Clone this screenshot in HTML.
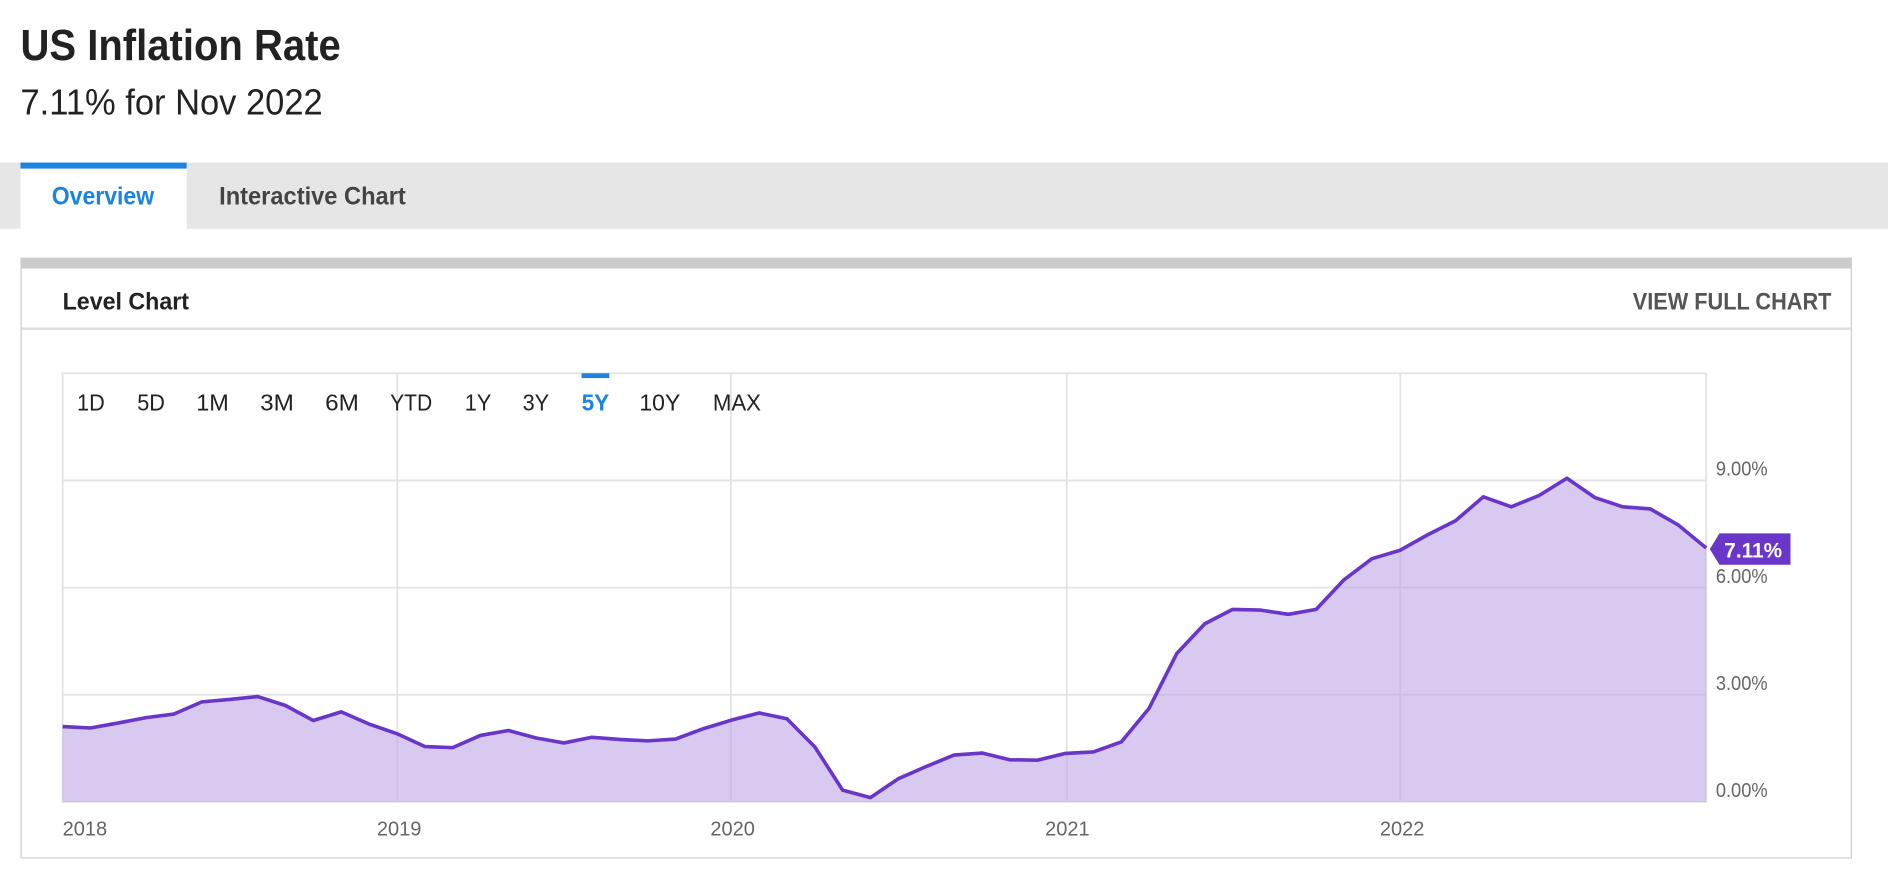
<!DOCTYPE html>
<html><head><meta charset="utf-8"><style>
html,body{margin:0;padding:0;background:#fff;overflow:hidden;width:1888px;height:890px}
#w{position:absolute;left:0;top:0;width:1568px;height:739px;transform:scale(1.2041);transform-origin:0 0;font-family:"Liberation Sans",sans-serif}
.a{position:absolute;white-space:nowrap}
</style></head><body><div id="w">
<div class="a" style="left:0;top:135px;width:1568px;height:55px;background:#e6e6e6"></div>
<div class="a" style="left:17px;top:135px;width:138px;height:55px;background:#fff;border-top:5px solid #1a84e0;box-sizing:border-box"></div>
<div class="a" style="left:17px;top:214px;width:1521px;height:499px;border:1px solid #ccc;border-top:9px solid #ccc;box-sizing:border-box"></div>
<div class="a" style="left:18px;top:272px;width:1519px;height:2px;background:#ddd"></div>
<svg class="a" style="left:0;top:0" width="1568" height="739" font-family="Liberation Sans,sans-serif">
<text x="17" y="50" font-size="36" font-weight="bold" fill="#222" textLength="266" lengthAdjust="spacingAndGlyphs">US Inflation Rate</text>
<text x="17" y="95" font-size="30" fill="#222" textLength="251" lengthAdjust="spacingAndGlyphs">7.11% for Nov 2022</text>
<text x="43" y="170" font-size="21" font-weight="bold" fill="#1a84e0" textLength="85" lengthAdjust="spacingAndGlyphs">Overview</text>
<text x="182" y="170" font-size="21" font-weight="bold" fill="#444" textLength="155" lengthAdjust="spacingAndGlyphs">Interactive Chart</text>
<text x="52" y="257" font-size="20" font-weight="bold" fill="#222" textLength="105" lengthAdjust="spacingAndGlyphs">Level Chart</text>
<text x="1356" y="257" font-size="20" font-weight="bold" fill="#555" textLength="165" lengthAdjust="spacingAndGlyphs">VIEW FULL CHART</text>
<g stroke="#e3e3e3" stroke-width="1.5" fill="none">
<rect x="52" y="310" width="1365" height="356"/>
<line x1="52" y1="399" x2="1417" y2="399"/><line x1="52" y1="488" x2="1417" y2="488"/><line x1="52" y1="577" x2="1417" y2="577"/>
<line x1="330" y1="310" x2="330" y2="666"/><line x1="607" y1="310" x2="607" y2="666"/><line x1="886" y1="310" x2="886" y2="666"/><line x1="1163" y1="310" x2="1163" y2="666"/>
</g>
<polygon fill="rgba(190,165,232,0.6)" points="52,666 52.0,603.4 75.1,604.6 98.3,600.4 121.4,596.0 144.5,593.0 167.7,582.9 190.8,580.9 214.0,578.5 237.1,585.9 260.2,598.4 283.4,591.2 306.5,601.3 329.6,609.3 352.8,620.0 375.9,620.9 399.0,610.8 422.2,606.7 445.3,612.9 468.4,617.0 491.6,612.3 514.7,614.1 537.8,615.3 561.0,613.8 584.1,605.2 607.3,598.1 630.4,592.1 653.5,596.9 676.7,620.3 699.8,656.2 722.9,662.4 746.1,646.7 769.2,636.6 792.3,627.1 815.5,625.4 838.6,631.0 861.8,631.3 884.9,625.7 908.0,624.5 931.2,616.2 954.3,588.3 977.4,542.6 1000.6,518.0 1023.7,506.1 1046.8,506.7 1070.0,510.2 1093.1,506.1 1116.2,481.5 1139.4,464.0 1162.5,457.1 1185.7,444.1 1208.8,432.5 1231.9,412.6 1255.1,420.9 1278.2,411.5 1301.3,397.2 1324.5,413.2 1347.6,420.9 1370.7,422.7 1393.9,436.1 1417.0,455.1 1417,666"/>
<polyline fill="none" stroke="#6a35c9" stroke-width="3" stroke-linejoin="round" points="52.0,603.4 75.1,604.6 98.3,600.4 121.4,596.0 144.5,593.0 167.7,582.9 190.8,580.9 214.0,578.5 237.1,585.9 260.2,598.4 283.4,591.2 306.5,601.3 329.6,609.3 352.8,620.0 375.9,620.9 399.0,610.8 422.2,606.7 445.3,612.9 468.4,617.0 491.6,612.3 514.7,614.1 537.8,615.3 561.0,613.8 584.1,605.2 607.3,598.1 630.4,592.1 653.5,596.9 676.7,620.3 699.8,656.2 722.9,662.4 746.1,646.7 769.2,636.6 792.3,627.1 815.5,625.4 838.6,631.0 861.8,631.3 884.9,625.7 908.0,624.5 931.2,616.2 954.3,588.3 977.4,542.6 1000.6,518.0 1023.7,506.1 1046.8,506.7 1070.0,510.2 1093.1,506.1 1116.2,481.5 1139.4,464.0 1162.5,457.1 1185.7,444.1 1208.8,432.5 1231.9,412.6 1255.1,420.9 1278.2,411.5 1301.3,397.2 1324.5,413.2 1347.6,420.9 1370.7,422.7 1393.9,436.1 1417.0,455.1"/>
<polygon fill="#6a35c9" points="1420,456 1428,443 1487,443 1487,469 1428,469"/>
<text x="1432" y="463" font-size="18" font-weight="bold" fill="#fff" textLength="48" lengthAdjust="spacingAndGlyphs">7.11%</text>
<rect x="483" y="310" width="23" height="4" fill="#1a84e0"/>
<g font-size="17" fill="#666">
<text x="1425" y="395" textLength="43" lengthAdjust="spacingAndGlyphs">9.00%</text><text x="1425" y="484" textLength="43" lengthAdjust="spacingAndGlyphs">6.00%</text><text x="1425" y="573" textLength="43" lengthAdjust="spacingAndGlyphs">3.00%</text><text x="1425" y="662" textLength="43" lengthAdjust="spacingAndGlyphs">0.00%</text>
<text x="52" y="694" textLength="37" lengthAdjust="spacingAndGlyphs">2018</text><text x="313" y="694" textLength="37" lengthAdjust="spacingAndGlyphs">2019</text><text x="590" y="694" textLength="37" lengthAdjust="spacingAndGlyphs">2020</text><text x="868" y="694" textLength="37" lengthAdjust="spacingAndGlyphs">2021</text><text x="1146" y="694" textLength="37" lengthAdjust="spacingAndGlyphs">2022</text>
</g>
<g font-size="19" fill="#222">
<text x="64" y="341" textLength="23" lengthAdjust="spacingAndGlyphs">1D</text><text x="114" y="341" textLength="23" lengthAdjust="spacingAndGlyphs">5D</text><text x="163" y="341" textLength="27" lengthAdjust="spacingAndGlyphs">1M</text><text x="216" y="341" textLength="28" lengthAdjust="spacingAndGlyphs">3M</text><text x="270" y="341" textLength="28" lengthAdjust="spacingAndGlyphs">6M</text><text x="324" y="341" textLength="35" lengthAdjust="spacingAndGlyphs">YTD</text><text x="386" y="341" textLength="22" lengthAdjust="spacingAndGlyphs">1Y</text><text x="434" y="341" textLength="22" lengthAdjust="spacingAndGlyphs">3Y</text><text x="483" y="341" fill="#1a84e0" font-weight="bold" textLength="23" lengthAdjust="spacingAndGlyphs">5Y</text><text x="531" y="341" textLength="34" lengthAdjust="spacingAndGlyphs">10Y</text><text x="592" y="341" textLength="40" lengthAdjust="spacingAndGlyphs">MAX</text>
</g>
</svg>
</div></body></html>
